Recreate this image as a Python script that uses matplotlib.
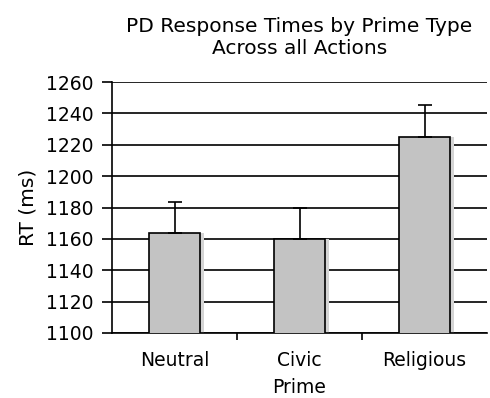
import matplotlib.pyplot as plt
import numpy as np

plt.rcParams["font.family"] = ["DejaVu Sans"]

primes = ["Neutral", "Civic", "Religious"]
mean_rt = [1163.5, 1160, 1225]
err_rt = [20, 20, 20.5]
y_ticks = [1100, 1120, 1140, 1160, 1180, 1200, 1220, 1240, 1260]


def main():
    fig = plt.figure(figsize=(4.9, 3.98), dpi=100)
    ax = fig.add_axes([112 / 490, 65 / 398, 375 / 490, 251 / 398])

    x = np.arange(len(primes))
    width = 0.41

    # drop shadow behind bars
    ax.bar(x + 0.03, mean_rt, width, color="#d4d4d4", zorder=2)
    ax.bar(x, mean_rt, width, color="#c3c3c3", edgecolor="black",
           linewidth=1.2, zorder=3)
    ax.errorbar(x, mean_rt, yerr=[np.zeros(len(err_rt)), err_rt], fmt="none",
                ecolor="black", elinewidth=1.2, capsize=5, capthick=1.2,
                zorder=4)

    ax.set_ylim(1100, 1260)
    ax.set_xlim(-0.5, 2.5)
    ax.set_yticks(y_ticks)
    ax.set_yticklabels([str(t) for t in y_ticks], fontsize=13.5)
    ax.yaxis.grid(True, color="black", linewidth=1.2, zorder=1)
    ax.set_axisbelow(True)

    ax.set_xticks([0.5, 1.5], minor=False)
    ax.set_xticklabels([])
    ax.set_xticks(x, minor=True)
    ax.set_xticklabels(primes, minor=True, fontsize=13.5)
    ax.tick_params(axis="x", which="minor", length=0, pad=13)
    ax.tick_params(axis="x", which="major", length=5, width=1.2)
    ax.tick_params(axis="y", length=7, width=1.2, pad=6)

    for side in ["top", "right"]:
        ax.spines[side].set_visible(False)
    ax.spines["left"].set_linewidth(1.2)
    ax.spines["bottom"].set_linewidth(1.2)

    ax.set_ylabel("RT (ms)", fontsize=14.5, labelpad=6)
    ax.set_xlabel("Prime", fontsize=13.5, labelpad=6)
    ax.set_title("PD Response Times by Prime Type\nAcross all Actions",
                 fontsize=14.5, pad=20)

    plt.savefig("out.png", dpi=100)


if __name__ == "__main__":
    main()
